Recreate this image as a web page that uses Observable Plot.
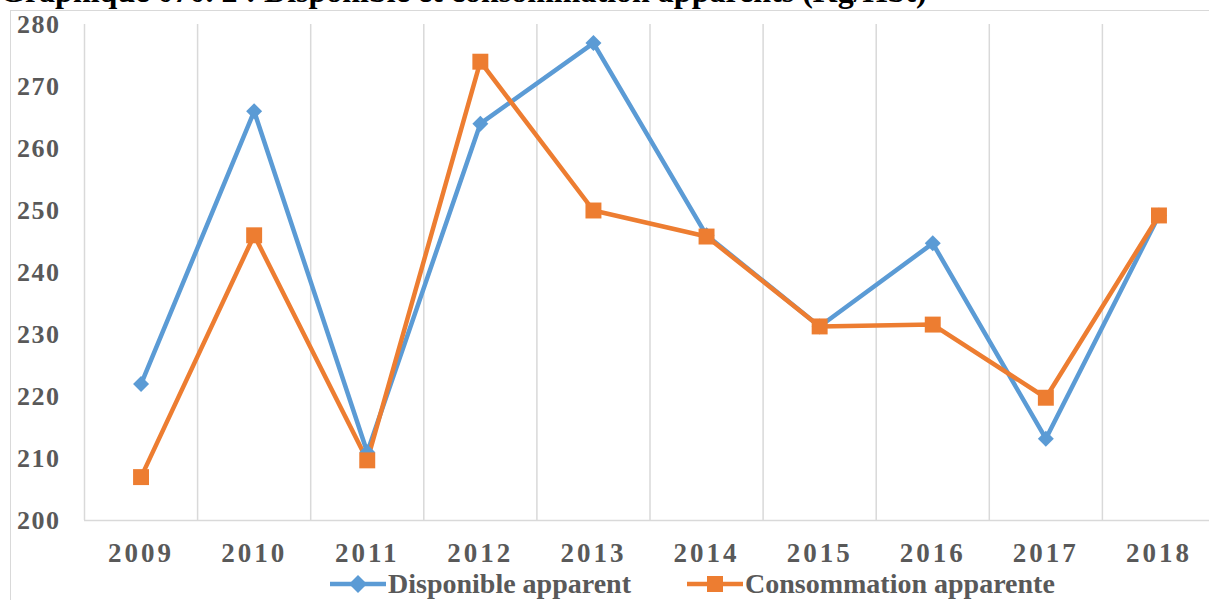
<!DOCTYPE html>
<html>
<head>
<meta charset="utf-8">
<script src="https://cdn.jsdelivr.net/npm/d3@7"></script>
<script src="https://cdn.jsdelivr.net/npm/@observablehq/plot@0.6"></script>
<style>
  html, body { margin: 0; padding: 0; background: #fff; overflow: hidden; width: 1209px; height: 600px; }
  #wrap { position: relative; width: 1209px; height: 600px; overflow: hidden; }
  #frame { position: absolute; left: 10px; top: 10px; width: 1300px; height: 700px; border: 1.5px solid #d9d9d9; box-sizing: border-box; }
  #title { position: absolute; left: 0px; top: -27px; font-family: "Liberation Serif", "Times New Roman", serif; font-weight: bold; font-size: 32px; line-height: 36px; color: #000; white-space: nowrap; }
  #chart { position: absolute; left: 0; top: 0; width: 1230px; }
  #chart svg { max-width: none !important; }
  #legend { position: absolute; left: 330px; top: 568px; font-family: "Liberation Serif", "Times New Roman", serif; font-weight: bold; font-size: 28px; color: #595959; white-space: nowrap; display: flex; align-items: center; }
  #legend .item { display: flex; align-items: center; }
  #legend svg { display: block; }
  .ytick text { letter-spacing: 1.5px; }
  .xtick text { letter-spacing: 3px; }
</style>
</head>
<body>
<div id="wrap">
  <div id="frame"></div>
  <div id="chart"></div>
  <div id="title">Graphique 070. 2 : Disponible et consommation apparents (Kg/Hbt)</div>
  <div id="legend"></div>
</div>
<script>
const years = [2009, 2010, 2011, 2012, 2013, 2014, 2015, 2016, 2017, 2018];
const disponible = [222, 266, 211, 264, 277, 246, 231.3, 244.7, 213.2, 249.2];
const consommation = [207, 246, 209.7, 274, 250, 245.8, 231.3, 231.6, 219.8, 249.2];
const yTicks = [200, 210, 220, 230, 240, 250, 260, 270, 280];
const seriesNames = ["Disponible apparent", "Consommation apparente"];
const colors = ["#5b9bd5", "#ed7d31"];

const dispData = years.map((y, i) => ({year: y, value: disponible[i]}));
const consData = years.map((y, i) => ({year: y, value: consommation[i]}));
const boundaries = years.map(y => y - 0.5).concat([years[years.length - 1] + 0.5]);

const chart = Plot.plot({
  width: 1230,
  height: 600,
  marginTop: 24,
  marginBottom: 80,
  marginLeft: 84,
  marginRight: 15,
  style: { fontFamily: "'Liberation Serif', 'Times New Roman', serif", background: "transparent", overflow: "visible", maxWidth: "none" },
  x: { domain: [years[0] - 0.5, years[years.length - 1] + 0.5] },
  y: { domain: [200, 280] },
  marks: [
    Plot.ruleX(boundaries, { x: d => d, y1: 200, y2: 280, stroke: "#d9d9d9", strokeWidth: 1.5 }),
    Plot.ruleY([200], { stroke: "#d9d9d9", strokeWidth: 1.5 }),
    Plot.axisY(yTicks, { ticks: yTicks, tickSize: 0, tickPadding: 24, fontSize: 26, fontWeight: "bold", fill: "#595959", className: "ytick", label: null }),
    Plot.axisX(years, { ticks: years, tickSize: 0, tickPadding: 22, tickFormat: d => String(d), fontSize: 27, fontWeight: "bold", fill: "#595959", className: "xtick", label: null }),
    Plot.line(dispData, { x: "year", y: "value", stroke: colors[0], strokeWidth: 4.5 }),
    Plot.line(consData, { x: "year", y: "value", stroke: colors[1], strokeWidth: 4.5 }),
    Plot.dot(dispData, { x: "year", y: "value", symbol: "diamond2", r: 7.2, fill: colors[0], stroke: "none" }),
    Plot.dot(consData, { x: "year", y: "value", symbol: "square", r: 9, fill: colors[1], stroke: "none" })
  ]
});
chart.style.maxWidth = "none";
chart.setAttribute("width", 1230);
chart.setAttribute("height", 600);
document.getElementById("chart").appendChild(chart);

// Legend
const legend = document.getElementById("legend");
const symbols = ["diamond", "square"];
seriesNames.forEach((name, i) => {
  const item = document.createElement("div");
  item.className = "item";
  if (i > 0) item.style.marginLeft = "56px";
  const ns = "http://www.w3.org/2000/svg";
  const svg = document.createElementNS(ns, "svg");
  svg.setAttribute("width", 56);
  svg.setAttribute("height", 24);
  const line = document.createElementNS(ns, "line");
  line.setAttribute("x1", 0); line.setAttribute("x2", 56);
  line.setAttribute("y1", 12); line.setAttribute("y2", 12);
  line.setAttribute("stroke", colors[i]); line.setAttribute("stroke-width", 4.5);
  svg.appendChild(line);
  const sym = document.createElementNS(ns, "path");
  if (symbols[i] === "diamond") {
    sym.setAttribute("d", "M28,3 L37,12 L28,21 L19,12 Z");
  } else {
    sym.setAttribute("d", "M20,4 L36,4 L36,20 L20,20 Z");
  }
  sym.setAttribute("fill", colors[i]);
  svg.appendChild(sym);
  item.appendChild(svg);
  const span = document.createElement("span");
  span.textContent = name;
  span.style.marginLeft = "2px";
  item.appendChild(span);
  legend.appendChild(item);
});
</script>
</body>
</html>
